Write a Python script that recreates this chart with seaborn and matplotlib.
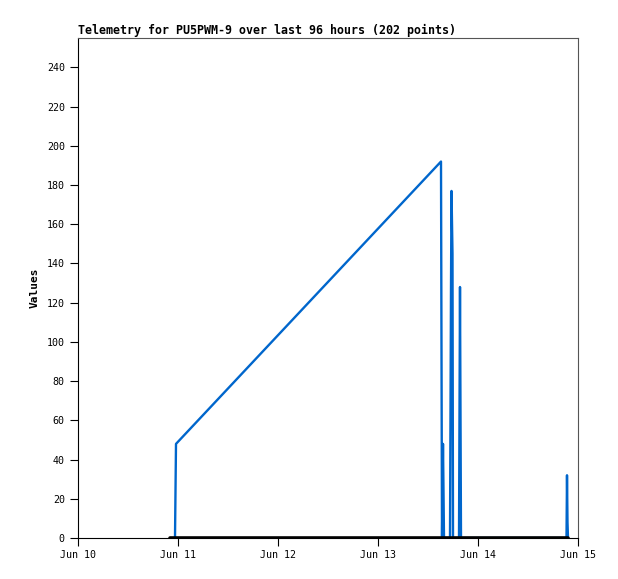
import pandas as pd
import seaborn as sns
import matplotlib.pyplot as plt
import matplotlib.dates as mdates

# Dados (dias desde 10 de junho, valor)
tempo_azul = [0.97, 0.98, 3.63, 3.64, 3.65, 3.66, 3.72, 3.73, 3.735, 3.745, 3.75,
              3.81, 3.82, 3.83, 4.885, 4.89, 4.895, 4.90]
valores_azul = [0, 48, 192, 0, 48, 0, 0, 128, 177, 145, 0,
                0, 128, 0, 0, 32, 8, 0]

tempo_preto = [0.92, 4.90]
valores_preto = [0, 0]

inicio = pd.Timestamp("2024-06-10")
azul = pd.DataFrame({"t": inicio + pd.to_timedelta(tempo_azul, unit="D"), "v": valores_azul})
preto = pd.DataFrame({"t": inicio + pd.to_timedelta(tempo_preto, unit="D"), "v": valores_preto})

sns.set_style("white")
plt.rcParams["font.family"] = ["DejaVu Sans Mono"]
plt.rcParams["text.color"] = "black"
plt.rcParams["axes.labelcolor"] = "black"

fig = plt.figure(figsize=(6.18, 5.79), dpi=100)
ax = fig.add_axes([78 / 618, 41 / 579, 500 / 618, 500 / 579])

sns.lineplot(data=azul, x="t", y="v", color="#0066cc", linewidth=1.7,
             estimator=None, sort=False, ax=ax)
sns.lineplot(data=preto, x="t", y="v", color="black", linewidth=2.6,
             estimator=None, sort=False, ax=ax, zorder=4)

ax.set_xlim(inicio, inicio + pd.Timedelta(days=5))
ax.set_ylim(0, 255)
ax.set_yticks(range(0, 241, 20))
ax.xaxis.set_major_locator(mdates.DayLocator())
ax.xaxis.set_major_formatter(mdates.DateFormatter("%b %d"))

for lado in ["left", "bottom"]:
    ax.spines[lado].set_color("black")
for lado in ["right", "top"]:
    ax.spines[lado].set_color("#555555")
for s in ax.spines.values():
    s.set_linewidth(0.8)

ax.tick_params(axis="both", direction="out", length=6, width=0.8, labelsize=7.2,
               bottom=True, left=True, colors="black")
ax.tick_params(axis="x", pad=3)

ax.set_xlabel("")
ax.set_ylabel("Values", fontsize=8, fontweight="bold", labelpad=5)
ax.set_title("Telemetry for PU5PWM-9 over last 96 hours (202 points)",
             fontsize=8.4, fontweight="bold", loc="left", pad=3, color="black")

fig.savefig("out.png", dpi=100)
